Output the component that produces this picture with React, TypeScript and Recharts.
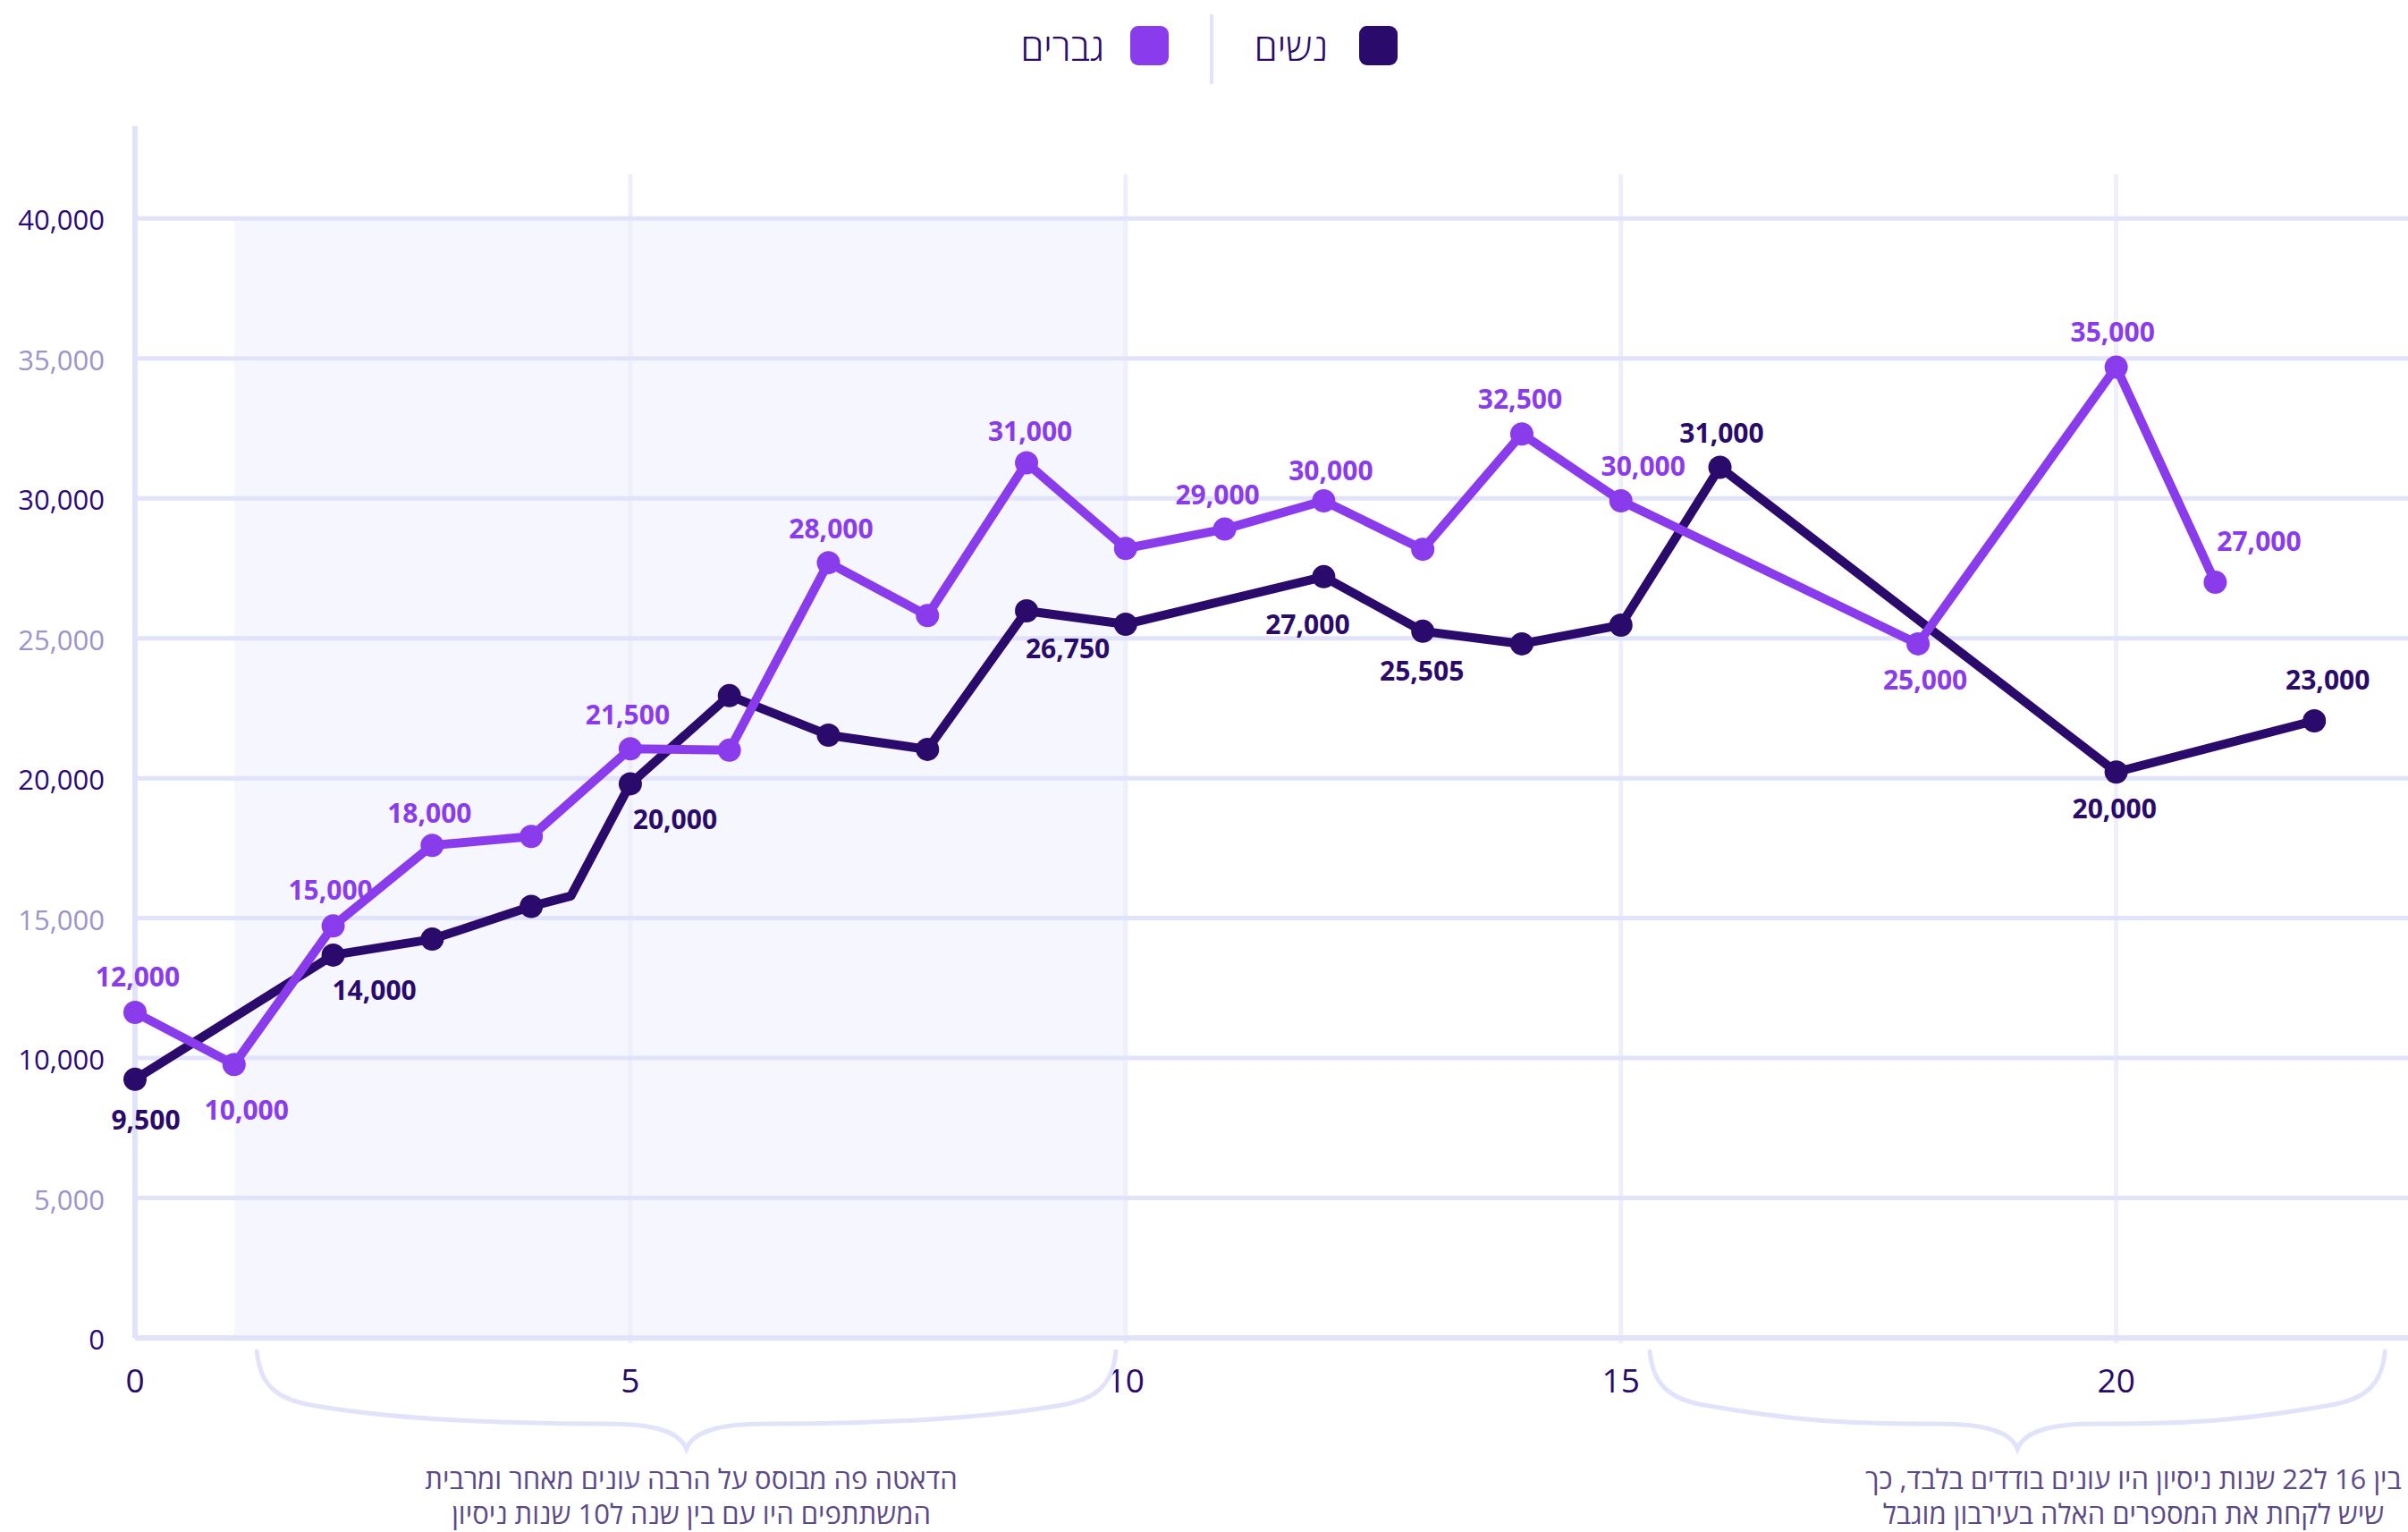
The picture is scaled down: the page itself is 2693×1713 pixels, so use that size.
import React from 'react';
import { LineChart, Line, XAxis, YAxis, ReferenceArea, ReferenceLine } from 'recharts';

// ---------- data ----------
const xTicks = [0, 5, 10, 15, 20];
const yTicks = [0, 5000, 10000, 15000, 20000, 25000, 30000, 35000, 40000];
const gridYears = [5, 10, 15, 20];
const shadedFrom = 1;
const shadedTo = 10;

// men (גברים)
const menYears = [0, 1, 2, 3, 4, 5, 6, 7, 8, 9, 10, 11, 12, 13, 14, 15, 18, 20, 21];
const menSalary = [11630, 9770, 14720, 17600, 17920, 21050, 21000, 27700, 25810, 31270, 28210, 28900, 29910, 28180, 32300, 29910, 24800, 34690, 27000];
const menLabels = ['12,000', '10,000', '15,000', '18,000', null, '21,500', null, '28,000', null, '31,000', null, '29,000', '30,000', null, '32,500', '30,000', '25,000', '35,000', '27,000'];
const menLabelOffsets = [[3, -40], [14, 51], [-3, -40], [-3, -36], [0, 0], [-3, -38], [0, 0], [3, -38], [0, 0], [4, -35], [0, 0], [-8, -39], [8, -34], [0, 0], [-2, -39], [25, -39], [8, 40], [-4, -39], [49, -46]];

// women (נשים)
const womenYears = [0, 2, 3, 4, 4.4, 5, 6, 7, 8, 9, 10, 12, 13, 14, 15, 16, 20, 22];
const womenSalary = [9240, 13680, 14250, 15420, 15790, 19800, 22950, 21540, 21030, 25980, 25500, 27200, 25250, 24800, 25470, 31110, 20220, 22050];
const womenLabels = ['9,500', '14,000', null, null, null, '20,000', null, null, null, '26,750', null, '27,000', '25,505', null, null, '31,000', '20,000', '23,000'];
const womenLabelOffsets = [[12, 45], [46, 39], [0, 0], [0, 0], [0, 0], [50, 40], [0, 0], [0, 0], [0, 0], [46, 42], [0, 0], [-18, 53], [-1, 44], [0, 0], [0, 0], [2, -38], [-2, 41], [15, -46]];

const legendWomen = 'נשים';
const legendMen = 'גברים';
const noteLeft = ['הדאטה פה מבוסס על הרבה עונים מאחר ומרבית', 'המשתתפים היו עם בין שנה ל10 שנות ניסיון'];
const noteRight = ['בין 16 ל22 שנות ניסיון היו עונים בודדים בלבד, כך', 'שיש לקחת את המספרים האלה בעירבון מוגבל'];

const menData = menYears.map((x, i) => ({ x, y: menSalary[i] }));
const womenData = womenYears.map((x, i) => ({ x, y: womenSalary[i] }));

// ---------- styles ----------
const W = 2693;
const H = 1713;
const FONT = "'Open Sans', 'Noto Sans', 'DejaVu Sans', sans-serif";
const DARK = '#2a0a6b';
const PURPLE = '#8a3ced';
const TICK_DARK = '#2b0c78';
const TICK_LIGHT = '#9c94ca';
const GRID = '#e1e3fb';
const VGRID = '#efeffc';
const SHADE = '#f6f6fe';
const NOTE = '#5c4a86';

const PLOT_LEFT = 151;
const PLOT_TOP = 141;
const PLOT_BOTTOM = 1496;
const X_MAX = 23;
const UNIT = 110.8;
const CHART_W = Math.round(PLOT_LEFT + X_MAX * UNIT);
const Y_MAX = 43300;
const X_AXIS_H = 30;

const xPx = (v: number) => PLOT_LEFT + v * UNIT;

const fmt = (v: number) => v.toLocaleString('en-US');

const YTick = (props: any) => {
  const { x, y, payload } = props;
  const even = Math.round(payload.value / 5000) % 2 === 0;
  return (
    <text x={x} y={y + 13} textAnchor="end" fontFamily={FONT} fontSize={31} fill={even ? TICK_DARK : TICK_LIGHT}>
      {fmt(payload.value)}
    </text>
  );
};

const XTick = (props: any) => {
  const { x, y, payload } = props;
  return (
    <text x={x} y={y + 61} textAnchor="middle" fontFamily={FONT} fontSize={37} fill={DARK}>
      {payload.value}
    </text>
  );
};

const makeDot = (color: string, labels: (string | null)[], offsets: number[][], tag: string) => (props: any) => {
  const { cx, cy, index, payload } = props;
  const key = `${tag}-${index}`;
  if (!Number.isInteger(payload.x)) return <g key={key} />;
  const lab = labels[index];
  const off = offsets[index];
  return (
    <g key={key}>
      <circle cx={cx} cy={cy} r={13} fill={color} />
      {lab ? (
        <text x={cx + off[0]} y={cy + off[1] + 11} textAnchor="middle" fontFamily={FONT} fontWeight={700} fontSize={30} fill={color}>
          {lab}
        </text>
      ) : null}
    </g>
  );
};

const bracePath = (L: number, R: number, top: number) => {
  const C = (L + R) / 2;
  const m = (x: number) => 2 * C - x;
  const a1 = L + 3, a2 = L + 18, a3 = L + 66;
  const b1 = L + 160, b2 = C - 200, b3 = C - 89;
  const c1 = C - 38, c2 = C - 8;
  const yc = top + 61, yl = top + 81, ytip = top + 109;
  return [
    `M ${L} ${top}`,
    `C ${a1} ${top + 34} ${a2} ${top + 54} ${a3} ${yc}`,
    `C ${b1} ${top + 77} ${b2} ${yl} ${b3} ${yl}`,
    `C ${c1} ${yl} ${c2} ${top + 89} ${C} ${ytip}`,
    `C ${m(c2)} ${top + 89} ${m(c1)} ${yl} ${m(b3)} ${yl}`,
    `C ${m(b2)} ${yl} ${m(b1)} ${top + 77} ${m(a3)} ${yc}`,
    `C ${m(a2)} ${top + 54} ${m(a1)} ${top + 34} ${m(L)} ${top}`,
  ].join(' ');
};

const NOTE_FS = 31;
const Note = ({ lines, cx }: { lines: string[]; cx: number }) => (
  <>
    {lines.map((l, i) => (
      <div
        key={i}
        dir="rtl"
        style={{
          position: 'absolute',
          left: cx - 450,
          top: (i === 0 ? 1653 : 1692) - NOTE_FS / 2,
          width: 900,
          height: NOTE_FS,
          textAlign: 'center',
          fontFamily: FONT,
          fontSize: NOTE_FS,
          lineHeight: `${NOTE_FS}px`,
          color: NOTE,
          whiteSpace: 'nowrap',
        }}
      >
        {l}
      </div>
    ))}
  </>
);

export default function App() {
  return (
    <div style={{ position: 'absolute', left: 0, top: 0, width: W, height: H, overflow: 'hidden', background: '#fff' }}>
      <div style={{ position: 'absolute', left: 0, top: 0 }}>
        <LineChart
          width={CHART_W}
          height={H}
          margin={{ top: PLOT_TOP, right: 0, bottom: H - PLOT_BOTTOM - X_AXIS_H, left: 0 }}
        >
          <ReferenceArea x1={shadedFrom} x2={shadedTo} y1={0} y2={40000} fill={SHADE} fillOpacity={1} stroke="none" />
          {gridYears.map((g) => (
            <ReferenceLine
              key={`vg-${g}`}
              segment={[{ x: g, y: -190 }, { x: g, y: 41580 }]}
              stroke={VGRID}
              strokeWidth={5}
              ifOverflow="visible"
            />
          ))}
          {yTicks.filter((t) => t > 0).map((t) => (
            <ReferenceLine key={`hg-${t}`} y={t} stroke={GRID} strokeWidth={5} />
          ))}
          <XAxis
            type="number"
            dataKey="x"
            domain={[0, X_MAX]}
            ticks={xTicks}
            height={X_AXIS_H}
            tickLine={false}
            tickSize={0}
            tickMargin={0}
            axisLine={{ stroke: GRID, strokeWidth: 6 }}
            tick={<XTick />}
            interval={0}
          />
          <YAxis
            type="number"
            domain={[0, Y_MAX]}
            ticks={yTicks}
            width={PLOT_LEFT}
            tickLine={false}
            tickSize={0}
            tickMargin={34}
            axisLine={{ stroke: GRID, strokeWidth: 6 }}
            tick={<YTick />}
            interval={0}
          />
          <Line
            data={womenData}
            dataKey="y"
            type="linear"
            stroke={DARK}
            strokeWidth={10}
            strokeLinejoin="round"
            dot={makeDot(DARK, womenLabels, womenLabelOffsets, 'w')}
            activeDot={false}
            isAnimationActive={false}
          />
          <Line
            data={menData}
            dataKey="y"
            type="linear"
            stroke={PURPLE}
            strokeWidth={10}
            strokeLinejoin="round"
            dot={makeDot(PURPLE, menLabels, menLabelOffsets, 'm')}
            activeDot={false}
            isAnimationActive={false}
          />
        </LineChart>
      </div>

      <svg width={W} height={H} style={{ position: 'absolute', left: 0, top: 0, pointerEvents: 'none' }}>
        {/* legend */}
        <rect x={1520} y={29} width={43} height={44} rx={9} fill={DARK} />
        <text x={1485} y={68} textAnchor="end" fontFamily={FONT} fontWeight={300} fontSize={42} fill={DARK}>{legendWomen}</text>
        <rect x={1353} y={16} width={4} height={78} fill={GRID} />
        <rect x={1264} y={29} width={43} height={44} rx={9} fill={PURPLE} />
        <text x={1235} y={68} textAnchor="end" fontFamily={FONT} fontWeight={300} fontSize={42} fill={DARK}>{legendMen}</text>
        {/* braces */}
        <path d={bracePath(xPx(1.23), xPx(9.9), 1511)} fill="none" stroke={GRID} strokeWidth={5} strokeLinecap="round" />
        <path d={bracePath(xPx(15.29), xPx(22.71), 1511)} fill="none" stroke={GRID} strokeWidth={5} strokeLinecap="round" />
      </svg>
      <Note lines={noteLeft} cx={773} />
      <Note lines={noteRight} cx={2386} />
    </div>
  );
}
